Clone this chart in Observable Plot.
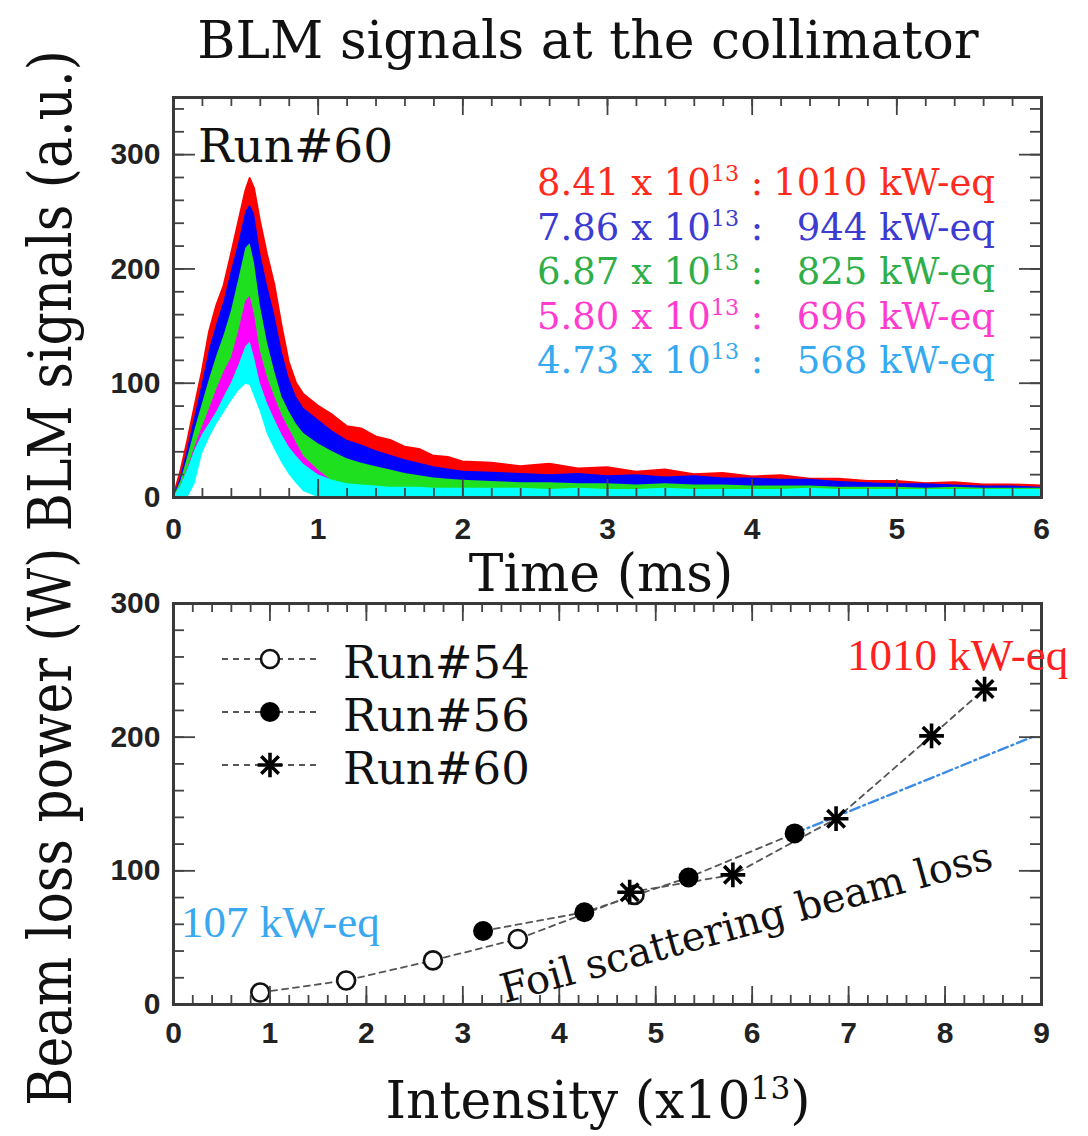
<!DOCTYPE html>
<html>
<head>
<meta charset="utf-8">
<script src="https://cdn.jsdelivr.net/npm/d3@7"></script>
<script src="https://cdn.jsdelivr.net/npm/@observablehq/plot@0.6"></script>
<style>
html,body{margin:0;padding:0;background:#fff;}
#root{position:relative;width:1088px;height:1136px;overflow:hidden;background:#fff;}
.t{position:absolute;white-space:nowrap;}
.sup{font-size:0.6em;vertical-align:0.62em;line-height:0;}
</style>
</head>
<body>
<div id="root"></div>
<script>
// ---------------- data ----------------
// Top panel: BLM signals of Run#60, time in ms, signal in a.u. (upper envelope of each noisy trace)
const time = [0,0.05,0.1,0.15,0.2,0.25,0.3,0.35,0.4,0.45,0.5,0.53,0.56,0.6,0.65,0.7,0.75,0.8,0.85,0.9,
  1.0,1.1,1.2,1.3,1.4,1.5,1.6,1.7,1.8,1.9,2.0,2.2,2.4,2.6,2.8,3.0,3.2,3.4,3.6,3.8,4.0,4.2,4.4,4.6,4.8,5.0,5.2,5.4,5.6,5.8,6.0];
const sigRed     = [0,22,50,80,110,145,168,185,212,240,268,279,270,242,212,186,150,118,100,90,
  80,72,62,60,53,50,44,42,36,35,31,30,27,29,25,26,22,24,20,21,18,19,16,16,14,14,12,13,11,11,10];
const sigBlue    = [0,18,44,72,100,130,152,172,198,222,250,256,248,215,185,160,128,104,88,78,
  68,58,50,46,41,37,33,30,27,25,23,22,21,20,21,19,20,18,19,17,17,16,16,14,13,12,12,11,10,10,9];
const sigGreen   = [0,14,36,60,82,104,124,142,163,190,218,222,205,168,135,110,88,75,64,56,
  47,40,34,30,27,24,21,19,17,16,15,14,13,13,12,12,11,12,11,11,10,10,10,9,9,9,8,9,8,8,8];
const sigMagenta = [0,10,26,45,62,78,95,110,122,145,172,176,160,128,105,88,72,60,48,36,
  24,14,10,8,7,6,6,5,5,5,4,4,5,4,4,5,4,4,5,4,4,4,5,4,4,4,4,5,4,4,4];
const sigCyan    = [0,10,25,42,55,65,75,88,100,115,132,136,122,100,82,68,55,44,36,29,
  20,15,12,11,10,9,9,9,8,8,8,8,8,7,8,7,7,8,7,7,7,7,8,7,7,7,7,7,7,7,7];
const sigCyanInner = [0,0,0,12,38,52,64,74,84,93,99,98,88,75,55,42,30,20,12,5,
  0,0,0,0,0,0,0,0,0,0,0,0,0,0,0,0,0,0,0,0,0,0,0,0,0,0,0,0,0,0,0];
const legendIntensity = ["8.41","7.86","6.87","5.80","4.73"];
const legendPower     = ["1010","944","825","696","568"];

// Bottom panel: beam loss power (W) vs intensity (x10^13)
const run54Intensity = [0.90,1.79,2.69,3.57,4.78];
const run54Power     = [9,18,33,49,82];
const run56Intensity = [3.21,4.26,5.34,6.44];
const run56Power     = [55,69,95,128];
const run60Intensity = [4.73,5.80,6.87,7.86,8.41];
const run60Power     = [84,97,139,201,236];
const foilIntensity  = [6.44,8.90];
const foilPower      = [128,200];
const runNames = ["Run#54","Run#56","Run#60"];

// Axis ticks
const topXTicks = [0,1,2,3,4,5,6];
const topYTicks = [0,100,200,300];
const botXTicks = [0,1,2,3,4,5,6,7,8,9];
const botYTicks = [0,100,200,300];

// ---------------- helpers ----------------
const root = document.getElementById("root");
const metrics = {"DejaVu Serif": [0.928, 0.236], "Liberation Serif": [0.891, 0.216]};
function addText(html, o) {
  const d = document.createElement("div");
  const font = o.font || "DejaVu Serif";
  const [asc, desc] = metrics[font];
  const lh = o.lh || o.size;
  d.className = "t";
  d.innerHTML = html;
  d.style.fontFamily = font;
  d.style.fontSize = o.size + "px";
  d.style.lineHeight = lh + "px";
  d.style.height = lh + "px";
  d.style.color = o.color || "#111";
  d.style.left = o.x + "px";
  const off = (lh - (asc + desc) * o.size) / 2 + asc * o.size;
  d.style.top = (o.base - off) + "px";
  const tx = o.anchor === "middle" ? "translateX(-50%)" : o.anchor === "end" ? "translateX(-100%)" : "";
  d.style.transform = tx;
  root.appendChild(d);
  return d;
}
const frameColor = "#3a3a3a", tickColor = "#444";
const tickFont = {fontSize: 30, fontWeight: "bold", fontFamily: "Liberation Sans", fill: "#222", tickFormat: d => String(d)};

function tickMarks(xd, yd, W, H, xMaj, xMin, yMaj, yMin) {
  const ux = (xd[1] - xd[0]) / W, uy = (yd[1] - yd[0]) / H;
  const s = {stroke: tickColor, strokeWidth: 1.8};
  return [
    Plot.ruleX(xMaj, {x: d => d, y1: yd[0], y2: yd[0] + 18 * uy, ...s}),
    Plot.ruleX(xMaj, {x: d => d, y1: yd[1] - 18 * uy, y2: yd[1], ...s}),
    Plot.ruleX(xMin, {x: d => d, y1: yd[0], y2: yd[0] + 9 * uy, ...s}),
    Plot.ruleX(xMin, {x: d => d, y1: yd[1] - 9 * uy, y2: yd[1], ...s}),
    Plot.ruleY(yMaj, {y: d => d, x1: xd[0], x2: xd[0] + 22 * ux, ...s}),
    Plot.ruleY(yMaj, {y: d => d, x1: xd[1] - 22 * ux, x2: xd[1], ...s}),
    Plot.ruleY(yMin, {y: d => d, x1: xd[0], x2: xd[0] + 11 * ux, ...s}),
    Plot.ruleY(yMin, {y: d => d, x1: xd[1] - 11 * ux, x2: xd[1], ...s})
  ];
}

// ---------------- top panel ----------------
const sig = time.map((t, i) => ({t, red: sigRed[i], blue: sigBlue[i], green: sigGreen[i],
  magenta: sigMagenta[i], cyan: sigCyan[i], inner: sigCyanInner[i]}));
const topX = [0, 6], topY = [0, 350], topW = 868, topH = 400;
const topPlot = Plot.plot({
  width: 988, height: 462,
  marginLeft: 73, marginRight: 47, marginTop: 17, marginBottom: 45,
  x: {domain: topX}, y: {domain: topY},
  style: {background: "transparent", overflow: "visible"},
  marks: [
    Plot.areaY(sig, {x: "t", y1: 0, y2: "red", fill: "#ff0000", stroke: "#ff0000", strokeWidth: 2}),
    Plot.areaY(sig, {x: "t", y1: 0, y2: "blue", fill: "#0000ff"}),
    Plot.areaY(sig, {x: "t", y1: 0, y2: "green", fill: "#1fe01f"}),
    Plot.areaY(sig, {x: "t", y1: 0, y2: "magenta", fill: "#ff00ff"}),
    Plot.areaY(sig, {x: "t", y1: 0, y2: "cyan", fill: "#00ffff"}),
    Plot.areaY(sig, {x: "t", y1: 0, y2: "inner", fill: "#ffffff"}),
    ...tickMarks(topX, topY, topW, topH, topXTicks, d3.range(0, 6.001, 0.2), topYTicks, d3.range(0, 350.1, 20)),
    Plot.frame({stroke: frameColor, strokeWidth: 3}),
    Plot.axisX({ticks: topXTicks, tickSize: 0, tickPadding: 20, label: null, ...tickFont}),
    Plot.axisY({ticks: topYTicks, tickSize: 0, tickPadding: 13, label: null, ...tickFont})
  ]
});
topPlot.style.position = "absolute";
topPlot.style.left = "100px";
topPlot.style.top = "80px";
root.appendChild(topPlot);

// ---------------- bottom panel ----------------
const zip = (a, b) => a.map((v, i) => ({x: v, y: b[i]}));
const r54 = zip(run54Intensity, run54Power);
const r56 = zip(run56Intensity, run56Power);
const r60 = zip(run60Intensity, run60Power);
const foil = zip(foilIntensity, foilPower);
const botX = [0, 9], botY = [0, 300], botW = 868, botH = 401;
const dashStyle = {stroke: "#555", strokeWidth: 1.8, strokeDasharray: "6,5"};
const botPlot = Plot.plot({
  width: 988, height: 464,
  marginLeft: 73, marginRight: 47, marginTop: 18, marginBottom: 45,
  x: {domain: botX}, y: {domain: botY},
  style: {background: "transparent", overflow: "visible"},
  marks: [
    Plot.line(foil, {x: "x", y: "y", stroke: "#3c8ce6", strokeWidth: 2.4, strokeDasharray: "10,4,2,4"}),
    Plot.line(r54, {x: "x", y: "y", ...dashStyle}),
    Plot.line(r56, {x: "x", y: "y", ...dashStyle}),
    Plot.line(r60, {x: "x", y: "y", ...dashStyle}),
    Plot.dot(r54, {x: "x", y: "y", r: 9, stroke: "#111", strokeWidth: 2.6, fill: "white"}),
    Plot.dot(r56, {x: "x", y: "y", r: 10, fill: "#000", stroke: "none"}),
    Plot.dot(r60, {x: "x", y: "y", r: 8, symbol: "plus", stroke: "#000", strokeWidth: 3.6}),
    Plot.dot(r60, {x: "x", y: "y", r: 8, symbol: "times", stroke: "#000", strokeWidth: 3.6}),
    ...tickMarks(botX, botY, botW, botH, botXTicks, d3.range(0, 9.001, 0.2), botYTicks, d3.range(0, 300.1, 20)),
    Plot.frame({stroke: frameColor, strokeWidth: 3}),
    Plot.axisX({ticks: botXTicks, tickSize: 0, tickPadding: 17, label: null, ...tickFont}),
    Plot.axisY({ticks: botYTicks, tickSize: 0, tickPadding: 13, label: null, ...tickFont})
  ]
});
botPlot.style.position = "absolute";
botPlot.style.left = "100px";
botPlot.style.top = "585px";
root.appendChild(botPlot);

// legend of the bottom panel (drawn into the bottom svg; origin at page 100,585)
{
  const g = d3.select(botPlot).append("g").attr("text-anchor", "start");
  const symbols = [
    [{type: d3.symbolCircle, size: Math.PI * 81, fill: "white", stroke: "#111", sw: 2.6}],
    [{type: d3.symbolCircle, size: Math.PI * 100, fill: "#000", stroke: "none", sw: 0}],
    [{type: d3.symbolPlus, size: Math.PI * 64, fill: "none", stroke: "#000", sw: 3.6},
     {type: d3.symbolTimes, size: Math.PI * 64, fill: "none", stroke: "#000", sw: 3.6}]
  ];
  runNames.forEach((name, i) => {
    const cy = 74 + i * 53;
    g.append("line").attr("x1", 122).attr("x2", 218).attr("y1", cy).attr("y2", cy)
      .attr("stroke", "#555").attr("stroke-width", 1.8).attr("stroke-dasharray", "6,5");
    symbols[i].forEach(s => {
      g.append("path").attr("transform", `translate(170,${cy})`)
        .attr("d", d3.symbol(s.type, s.size)())
        .attr("fill", s.fill).attr("stroke", s.stroke).attr("stroke-width", s.sw);
    });
    g.append("text").attr("x", 243).attr("y", cy + 19).attr("text-anchor", "start").text(name)
      .attr("font-family", "DejaVu Serif").attr("font-size", 45).attr("fill", "#111");
  });
}

// ---------------- texts ----------------
addText("BLM signals at the collimator", {x: 588, base: 58, size: 52, anchor: "middle"});
addText("Run#60", {x: 198, base: 162, size: 47});
const legendColors = ["#ff2b1c", "#3c3cd2", "#2fae49", "#ff3ccf", "#35aaf0"];
legendIntensity.forEach((v, i) => {
  const base = 196 + i * 44.5;
  addText(`${v} x 10<span class="sup">13</span> :`, {x: 537, base, size: 37, lh: 36, color: legendColors[i]});
  addText(`${legendPower[i]} kW-eq`, {x: 995, base, size: 37, lh: 36, color: legendColors[i], anchor: "end"});
});
addText("Time (ms)", {x: 601, base: 591, size: 52, anchor: "middle"});
addText(`Intensity (x10<span class="sup">13</span>)`, {x: 598, base: 1118, size: 52, anchor: "middle"});
addText("1010 kW-eq", {x: 847, base: 671, size: 45, font: "Liberation Serif", color: "#ff2020"});
addText("107 kW-eq", {x: 181, base: 938, size: 45, font: "Liberation Serif", color: "#3aa8ee"});

// rotated annotation
{
  const d = document.createElement("div");
  d.className = "t";
  d.textContent = "Foil scattering beam loss";
  Object.assign(d.style, {fontFamily: "DejaVu Serif", fontSize: "40px", lineHeight: "40px", color: "#111",
    left: "746px", top: "922px", transform: "translate(-50%,-50%) rotate(-15.4deg)"});
  root.appendChild(d);
}
// shared y-axis title
{
  const d = document.createElement("div");
  d.className = "t";
  d.textContent = "Beam loss power (W) BLM signals (a.u.)";
  Object.assign(d.style, {fontFamily: "DejaVu Serif", fontSize: "59px", lineHeight: "70px", height: "70px",
    width: "1300px", textAlign: "center", color: "#111",
    left: (50.6 - 650) + "px", top: (577.5 - 35) + "px", transform: "rotate(-90deg) scaleX(0.88)"});
  root.appendChild(d);
}
</script>
</body>
</html>
